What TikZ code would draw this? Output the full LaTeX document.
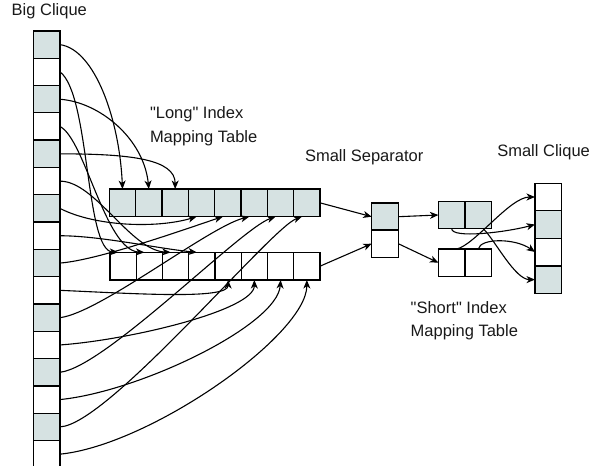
\documentclass[tikz,border=0pt]{standalone}
\usepackage{fontspec}
\newfontfamily\lblfont{Liberation Sans}
\usetikzlibrary{arrows.meta}
\definecolor{cellgray}{RGB}{214,226,226}
\tikzset{
  cellbox/.style={draw, line width=1.3pt, minimum width=26.6pt, minimum height=27.4pt, inner sep=0pt, outer sep=0pt},
  conn/.style={line width=1.1pt, -{Stealth[length=8.5pt,width=7pt,inset=2.5pt]}},
  lbl/.style={inner sep=0pt, outer sep=0pt, font=\lblfont\fontsize{16.5}{23.3}\selectfont, text=black!90}
}
\begin{document}
\begin{tikzpicture}[x=1pt,y=-1pt]
\useasboundingbox (0,0) rectangle (601,465);
% Big clique
\foreach \i in {0,...,15}{
  \pgfmathtruncatemacro{\odd}{mod(\i,2)}
  \ifnum\odd=0
    \node[cellbox, fill=cellgray] (c\i) at (46.8,{44.65+27.3*\i}) {};
  \else
    \node[cellbox, fill=white] (c\i) at (46.8,{44.65+27.3*\i}) {};
  \fi
}
% Long index mapping table (top, gray) and bottom (white)
\foreach \i in {1,...,8}{
  \node[cellbox, fill=cellgray, minimum width=26.34pt, minimum height=27.7pt] (t\i) at ({122.5+26.34*(\i-1)},202.85) {};
  \node[cellbox, fill=white, minimum width=26.25pt, minimum height=27.7pt] (b\i) at ({123.1+26.25*(\i-1)},266.2) {};
}
% Small separator
\node[cellbox, fill=cellgray] (s1) at (385,216.7) {};
\node[cellbox, fill=white] (s2) at (385,243.7) {};
% Short index mapping table
\node[cellbox, fill=cellgray] (u1) at (451.7,215) {};
\node[cellbox, fill=cellgray] (u2) at (478.3,215) {};
\node[cellbox, fill=white] (v1) at (451.7,262.7) {};
\node[cellbox, fill=white] (v2) at (478.3,262.7) {};
% Small clique
\node[cellbox, fill=white] (k1) at (548.3,197) {};
\node[cellbox, fill=cellgray] (k2) at (548.3,224.5) {};
\node[cellbox, fill=white] (k3) at (548.3,252) {};
\node[cellbox, fill=cellgray] (k4) at (548.3,279.6) {};
% Labels
\node[lbl, anchor=base west] (lbig) at (11.7,15.7) {Big Clique};
\node[lbl, anchor=base west] (llong) at (150,119) {\begin{tabular}[t]{@{}l@{}}"Long" Index\\Mapping Table\end{tabular}};
\node[lbl, anchor=base west] (lsep) at (305,161) {Small Separator};
\node[lbl, anchor=base west] (lsmall) at (497.3,156) {Small Clique};
\node[lbl, anchor=base west] (lshort) at (410.7,313.3) {\begin{tabular}[t]{@{}l@{}}"Short" Index\\Mapping Table\end{tabular}};
% Connectors big clique -> long tables
\draw[conn] (c0.east) .. controls +(35,5) and +(-3,-69) .. (t1.north);
\draw[conn] (c2.east) .. controls +(40,3) and +(-5,-50) .. (t2.north);
\draw[conn] (c4.east) .. controls +(70,0) and +(0,-30) .. (t3.north);
\draw[conn] (c1.east) .. controls +(30,23) and +(-33,-2) .. ([xshift=-5pt]b1.north);
\draw[conn] (c3.east) .. controls +(25,13) and +(-39,-2) .. ([xshift=-5pt]b2.north);
\draw[conn] (c5.east) .. controls +(35,0) and +(-40,-2) .. ([xshift=-5pt]b3.north);
\draw[conn] (c7.east) .. controls +(40,0) and +(-40,-4) .. ([xshift=-5pt]b4.north);
\draw[conn] (c6.east) .. controls +(35,18) and +(-40,12) .. ([xshift=-5pt]t4.south);
\draw[conn] (c8.east) .. controls +(40,-3) and +(-25,8) .. ([xshift=-5pt]t5.south);
\draw[conn] (c10.east) .. controls +(40,-5) and +(-40,10) .. ([xshift=-5pt]t6.south);
\draw[conn] (c12.east) .. controls +(45,-5) and +(-35,12) .. ([xshift=-5pt]t7.south);
\draw[conn] (c14.east) .. controls +(48,-2) and +(-31,11) .. ([xshift=-5pt]t8.south);
\draw[conn] (c9.east) .. controls +(70,3) and +(0,20) .. (b5.south);
\draw[conn] (c11.east) .. controls +(70,-5) and +(0,30) .. (b6.south);
\draw[conn] (c13.east) .. controls +(80,-8) and +(-3,45) .. (b7.south);
\draw[conn] (c15.east) .. controls +(90,-9) and +(0,55) .. (b8.south);
% Tables -> separator -> short tables
\draw[conn] (t8.east) -- (s1.west);
\draw[conn] (b8.east) -- (s2.west);
\draw[conn] (s1.east) -- (u1.west);
\draw[conn] (s2.east) -- (v1.west);
% Short tables -> small clique
\draw[conn] ([xshift=5pt]v1.north) .. controls +(18,-4) and +(-25,0) .. (k1.west);
\draw[conn] (u1.south) .. controls +(0,10) and +(-30,8) .. (k2.west);
\draw[conn] (v2.north) .. controls +(2,-11) and +(-20,-14) .. (k3.west);
\draw[conn] ([xshift=5pt]u2.south) .. controls +(12,12) and +(-20,0) .. (k4.west);
\end{tikzpicture}
\end{document}
